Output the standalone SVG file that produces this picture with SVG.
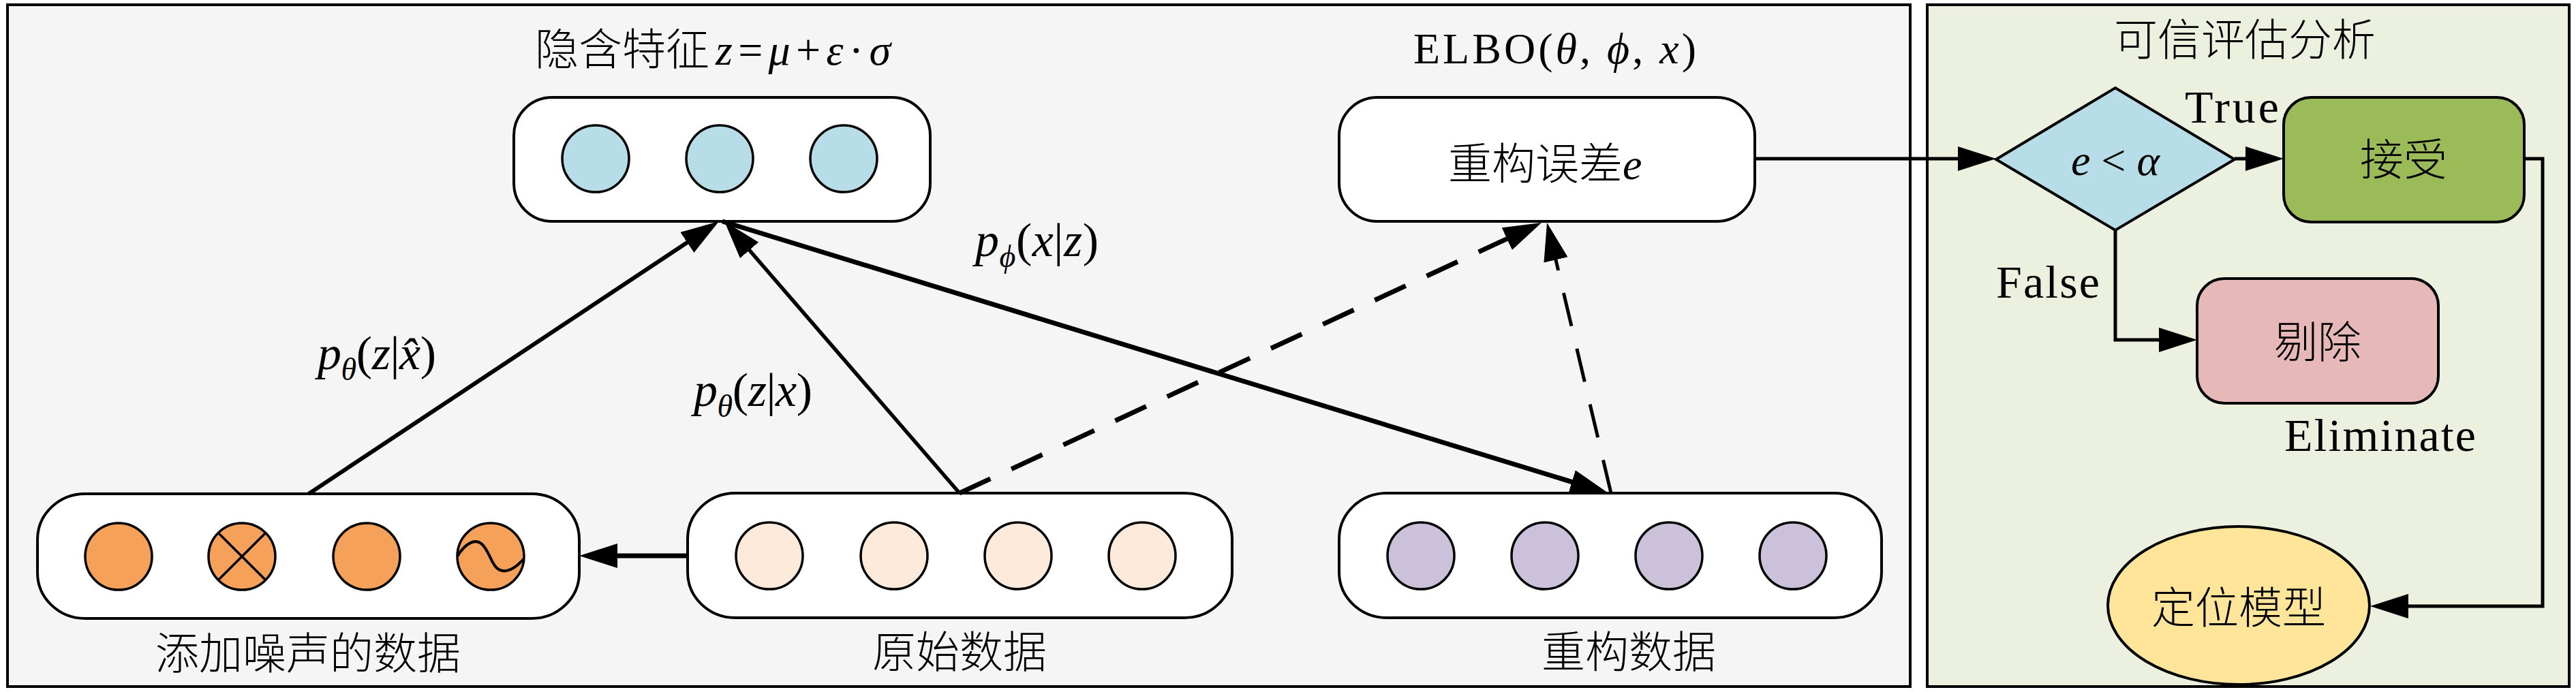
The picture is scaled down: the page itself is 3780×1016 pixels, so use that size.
<svg xmlns="http://www.w3.org/2000/svg" width="3780" height="1016" viewBox="0 0 3780 1016">
<style>
.t{font-family:'Liberation Serif','Noto Sans CJK SC',serif;font-size:64px;fill:#000}
.pl{font-family:'Liberation Serif',serif;font-size:70px;fill:#000;font-style:italic}
.cj{font-family:'Noto Sans CJK SC','Liberation Serif',sans-serif;font-size:64px;fill:#000;font-weight:300}
.lt{font-family:'Liberation Serif',serif;font-size:68px;fill:#000}
.i{font-style:italic}
.n{font-style:normal}
.box{fill:#fff;stroke:#000;stroke-width:4}
.c{stroke:#000;stroke-width:3.5}
.ln{fill:none;stroke:#000}
</style>
<defs>
<marker id="ah" markerUnits="userSpaceOnUse" markerWidth="56" markerHeight="36" viewBox="0 0 56 36" refX="41" refY="18" orient="auto"><path d="M0,0 L56,18 L0,36 z" fill="#000"/></marker>
</defs>

<g id="panel-left"><rect x="11" y="7" width="2792" height="1001" fill="#f5f5f5" stroke="#000" stroke-width="4"/></g>
<g id="panel-right"><rect x="2828" y="7" width="942" height="1001" fill="#ebf1de" stroke="#000" stroke-width="4"/>
<text class="cj" x="3294" y="81" text-anchor="middle">可信评估分析</text></g>

<g id="latent">
<text class="cj" x="785" y="95">隐含特征</text>
<text class="t i" x="1050" y="95" textLength="257" lengthAdjust="spacing">z<tspan class="n">=</tspan>μ<tspan class="n">+</tspan>ε<tspan class="n">·</tspan>σ</text>
<rect class="box" x="754" y="143" width="611" height="182" rx="56" ry="56"/>
<circle class="c" cx="874" cy="233" r="49" fill="#b7dee8"/>
<circle class="c" cx="1056" cy="233" r="49" fill="#b7dee8"/>
<circle class="c" cx="1238" cy="233" r="49" fill="#b7dee8"/>
</g>

<g id="elbo">
<text class="t" x="2074" y="93" textLength="415" lengthAdjust="spacing">ELBO(<tspan class="i">θ</tspan>, <tspan class="i">ϕ</tspan>, <tspan class="i">x</tspan>)</text>
<rect class="box" x="1965" y="143" width="610" height="182" rx="56" ry="56"/>
<text class="cj" x="2125" y="263">重构误差<tspan class="t i">e</tspan></text>
</g>

<g id="noisy">
<rect class="box" x="55" y="725" width="795" height="183" rx="70" ry="67"/>
<circle class="c" cx="174" cy="817" r="49" fill="#f5a15a"/>
<circle class="c" cx="355" cy="817" r="49" fill="#f5a15a"/>
<path class="ln" stroke-width="3.5" d="M320.4,782.4 L389.6,851.6 M389.6,782.4 L320.4,851.6"/>
<circle class="c" cx="538" cy="817" r="49" fill="#f5a15a"/>
<circle class="c" cx="720" cy="817" r="49" fill="#f5a15a"/>
<path class="ln" stroke-width="4" d="M671,817 C683,797 697,791 706,798 C716,805 720,825 728,833 C737,842 752,840 769,820"/>
<text class="cj" x="452" y="982" text-anchor="middle">添加噪声的数据</text>
</g>

<g id="original">
<rect class="box" x="1009" y="724" width="799" height="183" rx="70" ry="67"/>
<circle class="c" cx="1129" cy="816" r="49" fill="#fdeadb"/>
<circle class="c" cx="1312" cy="816" r="49" fill="#fdeadb"/>
<circle class="c" cx="1494" cy="816" r="49" fill="#fdeadb"/>
<circle class="c" cx="1676" cy="816" r="49" fill="#fdeadb"/>
<text class="cj" x="1408" y="980" text-anchor="middle">原始数据</text>
</g>

<g id="recon">
<rect class="box" x="1965" y="724" width="796" height="183" rx="70" ry="67"/>
<circle class="c" cx="2085" cy="816" r="49" fill="#ccc1da"/>
<circle class="c" cx="2267" cy="816" r="49" fill="#ccc1da"/>
<circle class="c" cx="2449" cy="816" r="49" fill="#ccc1da"/>
<circle class="c" cx="2631" cy="816" r="49" fill="#ccc1da"/>
<text class="cj" x="2390" y="980" text-anchor="middle">重构数据</text>
</g>

<g id="decision">
<polygon points="2929,234 3104,129 3279,234 3104,338" fill="#b7dee8" stroke="#000" stroke-width="4"/>
<text class="t i" x="3104" y="257" text-anchor="middle">e<tspan class="n"> &lt; </tspan>α</text>
</g>

<g id="accept">
<rect x="3351" y="143" width="353" height="183" rx="40" ry="40" fill="#9bbb59" stroke="#000" stroke-width="4"/>
<text class="cj" x="3527" y="257" text-anchor="middle">接受</text>
</g>

<g id="reject">
<rect x="3224" y="409" width="354" height="183" rx="40" ry="40" fill="#e6b9b8" stroke="#000" stroke-width="4"/>
<text class="cj" x="3401" y="525" text-anchor="middle">剔除</text>
</g>

<g id="model">
<ellipse cx="3285" cy="889" rx="192" ry="116" fill="#fee59a" stroke="#000" stroke-width="4"/>
<text class="cj" x="3285" y="915" text-anchor="middle">定位模型</text>
</g>

<g id="connectors">
<line class="ln" stroke-width="6" x1="453" y1="725" x2="1042.5" y2="333.3" marker-end="url(#ah)"/>
<line class="ln" stroke-width="5.5" x1="1408" y1="724" x2="1072.8" y2="336.3" marker-end="url(#ah)"/>
<line class="ln" stroke-width="7" x1="1060" y1="325" x2="2345.7" y2="719.6" marker-end="url(#ah)"/>
<line class="ln" stroke-width="7" stroke-dasharray="50 34" x1="1408" y1="724" x2="2248.4" y2="333.3" marker-end="url(#ah)"/>
<line class="ln" stroke-width="5" stroke-dasharray="50 34" x1="2364" y1="724" x2="2273.5" y2="341.6" marker-end="url(#ah)"/>
<line class="ln" stroke-width="7" x1="1009" y1="816" x2="865" y2="816" marker-end="url(#ah)"/>
<line class="ln" stroke-width="5" x1="2575" y1="233" x2="2914" y2="233" marker-end="url(#ah)"/>
<line class="ln" stroke-width="5" x1="3279" y1="233" x2="3336" y2="233" marker-end="url(#ah)"/>
<path class="ln" stroke-width="5" d="M3104,338 V499 H3209" marker-end="url(#ah)"/>
<path class="ln" stroke-width="5" d="M3704,233 H3731 V890 H3493" marker-end="url(#ah)"/>
<text class="pl" x="466" y="542" textLength="174" lengthAdjust="spacing">p<tspan font-size="46" dy="16">θ</tspan><tspan class="n" dy="-16">(</tspan>z<tspan class="n">|</tspan>x̂<tspan class="n">)</tspan></text>
<text class="pl" x="1018" y="596" textLength="174" lengthAdjust="spacing">p<tspan font-size="46" dy="16">θ</tspan><tspan class="n" dy="-16">(</tspan>z<tspan class="n">|</tspan>x<tspan class="n">)</tspan></text>
<text class="pl" x="1431" y="376" textLength="181" lengthAdjust="spacing">p<tspan font-size="46" dy="16">ϕ</tspan><tspan class="n" dy="-16">(</tspan>x<tspan class="n">|</tspan>z<tspan class="n">)</tspan></text>
<text class="lt" x="3206" y="180" textLength="138" lengthAdjust="spacing">True</text>
<text class="lt" x="2929" y="437" textLength="152" lengthAdjust="spacing">False</text>
<text class="lt" x="3352" y="662" textLength="281" lengthAdjust="spacing">Eliminate</text>
</g>
</svg>
